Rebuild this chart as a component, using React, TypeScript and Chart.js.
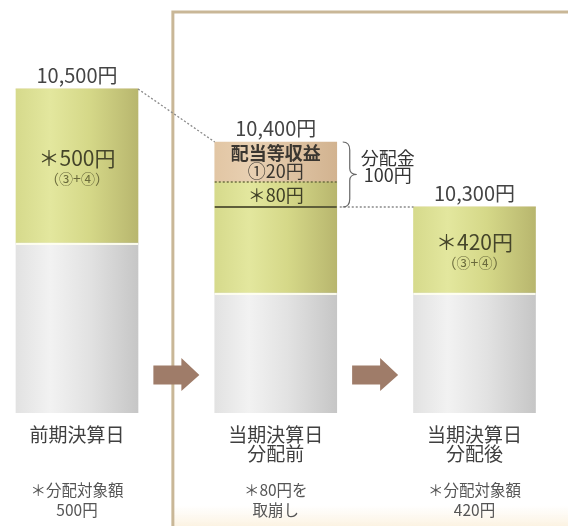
import { useEffect, useRef } from "react";
import { Chart, registerables } from "chart.js";

Chart.register(...registerables);

// ---- data (schematic segment heights in drawing units; the reference is not to scale) ----
const categories: string[][] = [["前期決算日"], ["当期決算日", "分配前"], ["当期決算日", "分配後"]];
const notes: string[][] = [["＊分配対象額", "500円"], ["＊80円を", "取崩し"], ["＊分配対象額", "420円"]];
const totalLabels: string[] = ["10,500円", "10,400円", "10,300円"];
const baseValues: number[] = [170, 120, 120];
const greenValues: number[] = [154, 86, 86];
const drawdownValues: number[] = [0, 25, 0]; // ＊80円 taken from distributable amount
const incomeValues: number[] = [0, 40, 0]; // ①20円 dividend income
const greenLabels: (string[] | null)[] = [["＊500円", "（③+④）"], null, ["＊420円", "（③+④）"]];
const incomeLabels: string[] = ["配当等収益", "①20円"];
const drawdownLabel = "＊80円";
const distributionLabels: string[] = ["分配金", "100円"];

const FONT = '"Noto Sans CJK JP", "Noto Sans", sans-serif';
const BAR_W = 122;

function hGrad(chart: any, idx: number, stops: [number, string][]) {
  const xs = chart.scales?.x;
  if (!xs) return stops[0][1];
  const cx = xs.getPixelForValue(idx);
  if (!isFinite(cx)) return stops[0][1];
  const g = chart.ctx.createLinearGradient(cx - BAR_W / 2, 0, cx + BAR_W / 2, 0);
  stops.forEach(([o, c]) => g.addColorStop(o, c));
  return g;
}

const greyStops: [number, string][] = [[0, "#e2e2e2"], [0.28, "#f2f2f2"], [0.6, "#e2e2e2"], [1, "#c6c6c6"]];
const greenStops: [number, string][] = [[0, "#d6da8c"], [0.28, "#e3e79e"], [0.6, "#d5d888"], [1, "#b8b66e"]];
const tanStops: [number, string][] = [[0, "#e2c6a4"], [0.3, "#e8d0b2"], [1, "#d2b390"]];

const overlay = {
  id: "overlay",
  beforeDatasetsDraw(chart: any) {
    const { ctx, scales } = chart;
    const xs = scales.x;
    const c0 = xs.getPixelForValue(0);
    const c1 = xs.getPixelForValue(1);
    const boxX = (c0 + c1) / 2 - 3.5;
    ctx.save();
    const cg = ctx.createLinearGradient(0, 505, 0, 526);
    cg.addColorStop(0, "rgba(253,246,232,0)");
    cg.addColorStop(1, "rgba(252,243,226,1)");
    ctx.fillStyle = cg;
    ctx.fillRect(boxX, 505, 600, 30);
    ctx.strokeStyle = "#c9b797";
    ctx.lineWidth = 3;
    ctx.strokeRect(boxX, 12, 600, 600);
    ctx.restore();
  },
  afterDatasetsDraw(chart: any) {
    const { ctx, scales } = chart;
    const xs = scales.x;
    const ys = scales.y;
    const cx = [0, 1, 2].map((i) => xs.getPixelForValue(i));
    const half = BAR_W / 2;
    const tops = baseValues.map((b, i) => ys.getPixelForValue(b + greenValues[i] + drawdownValues[i] + incomeValues[i]));
    const greenTop = baseValues.map((b, i) => ys.getPixelForValue(b + greenValues[i]));
    const baseTop = baseValues.map((b) => ys.getPixelForValue(b));
    ctx.save();
    ctx.textAlign = "center";
    ctx.textBaseline = "middle";

    // arrows
    ctx.fillStyle = "#9f7c69";
    for (let i = 0; i < 2; i++) {
      const mid = (cx[i] + cx[i + 1]) / 2;
      const x0 = mid - 23;
      const yc = 375;
      ctx.beginPath();
      ctx.moveTo(x0, yc - 9.5);
      ctx.lineTo(x0 + 28, yc - 9.5);
      ctx.lineTo(x0 + 28, yc - 17);
      ctx.lineTo(x0 + 46, yc);
      ctx.lineTo(x0 + 28, yc + 16);
      ctx.lineTo(x0 + 28, yc + 9.5);
      ctx.lineTo(x0, yc + 9.5);
      ctx.closePath();
      ctx.fill();
    }

    // connector from bar1 top to bar2 top
    ctx.strokeStyle = "#8a8a8a";
    ctx.lineWidth = 1.3;
    ctx.setLineDash([2, 2]);
    ctx.beginPath();
    ctx.moveTo(cx[0] + half, tops[0]);
    ctx.lineTo(cx[1] - half, tops[1]);
    ctx.stroke();
    // connector from bar2 green top to bar3 top
    ctx.beginPath();
    ctx.moveTo(cx[1] + half + 3, greenTop[1]);
    ctx.lineTo(cx[2] - half, tops[2]);
    ctx.stroke();

    // dotted line between income and drawdown in bar2
    const ddTop = ys.getPixelForValue(baseValues[1] + greenValues[1] + drawdownValues[1]);
    ctx.strokeStyle = "#6d6d42";
    ctx.lineWidth = 1.5;
    ctx.beginPath();
    ctx.moveTo(cx[1] - half, ddTop);
    ctx.lineTo(cx[1] + half, ddTop);
    ctx.stroke();
    ctx.setLineDash([]);
    ctx.strokeStyle = "#5e5e3a";
    ctx.lineWidth = 2;
    ctx.beginPath();
    ctx.moveTo(cx[1] - half, greenTop[1]);
    ctx.lineTo(cx[1] + half, greenTop[1]);
    ctx.stroke();

    // light separation line between grey and green
    ctx.strokeStyle = "rgba(255,255,240,0.9)";
    ctx.lineWidth = 2;
    for (let i = 0; i < 3; i++) {
      ctx.beginPath();
      ctx.moveTo(cx[i] - half, baseTop[i] + 1);
      ctx.lineTo(cx[i] + half, baseTop[i] + 1);
      ctx.stroke();
    }

    // bracket
    const bx = cx[1] + half + 6;
    const bTop = tops[1];
    const bBot = greenTop[1];
    const bMid = (bTop + bBot) / 2;
    ctx.strokeStyle = "#666";
    ctx.lineWidth = 1.2;
    ctx.beginPath();
    ctx.moveTo(bx, bTop);
    ctx.quadraticCurveTo(bx + 7, bTop, bx + 7, bTop + 8);
    ctx.lineTo(bx + 7, bMid - 6);
    ctx.quadraticCurveTo(bx + 7, bMid, bx + 14, bMid);
    ctx.quadraticCurveTo(bx + 7, bMid, bx + 7, bMid + 6);
    ctx.lineTo(bx + 7, bBot - 8);
    ctx.quadraticCurveTo(bx + 7, bBot, bx, bBot);
    ctx.stroke();

    ctx.fillStyle = "#333";
    ctx.font = `18px ${FONT}`;
    ctx.fillText(distributionLabels[0], bx + 45, bMid - 16);
    ctx.fillText(distributionLabels[1], bx + 45, bMid + 1);

    ctx.fillStyle = "#444";
    ctx.font = `20px ${FONT}`;
    for (let i = 0; i < 3; i++) {
      ctx.fillText(totalLabels[i], cx[i], tops[i] - 14);
    }

    for (let i = 0; i < 3; i++) {
      const lab = greenLabels[i];
      if (!lab) continue;
      const mid = (greenTop[i] + baseTop[i]) / 2;
      ctx.fillStyle = "#45452a";
      ctx.font = `21px ${FONT}`;
      ctx.fillText(lab[0], cx[i], mid - 8);
      ctx.fillStyle = "#6a6a3c";
      ctx.font = `14px ${FONT}`;
      ctx.fillText(lab[1], cx[i], mid + 13);
    }

    const incMid = (tops[1] + ddTop) / 2;
    ctx.fillStyle = "#3a3630";
    ctx.font = `bold 18px ${FONT}`;
    ctx.fillText(incomeLabels[0], cx[1], incMid - 9);
    ctx.font = `18px ${FONT}`;
    ctx.fillText(incomeLabels[1], cx[1], incMid + 9);
    ctx.fillStyle = "#3f3f26";
    ctx.fillText(drawdownLabel, cx[1], (ddTop + greenTop[1]) / 2 + 1);

    const bottom = ys.getPixelForValue(0);
    for (let i = 0; i < 3; i++) {
      ctx.fillStyle = "#404040";
      ctx.font = `19px ${FONT}`;
      categories[i].forEach((t, k) => ctx.fillText(t, cx[i], bottom + 22 + k * 19));
      ctx.fillStyle = "#555";
      ctx.font = `15.5px ${FONT}`;
      notes[i].forEach((t, k) => ctx.fillText(t, cx[i], bottom + 77 + k * 20));
    }
    ctx.restore();
  },
};

export default function App() {
  const ref = useRef<HTMLCanvasElement | null>(null);
  useEffect(() => {
    if (!ref.current) return;
    const pts = (arr: number[]) => arr.map((v, i) => ({ x: i, y: v }));
    const chart = new Chart(ref.current, {
      type: "bar",
      data: {
        datasets: [
          { label: "base", data: pts(baseValues), backgroundColor: (c: any) => hGrad(c.chart, c.dataIndex, greyStops) },
          { label: "distributable", data: pts(greenValues), backgroundColor: (c: any) => hGrad(c.chart, c.dataIndex, greenStops) },
          { label: "drawdown", data: pts(drawdownValues), backgroundColor: (c: any) => hGrad(c.chart, c.dataIndex, greenStops) },
          { label: "income", data: pts(incomeValues), backgroundColor: (c: any) => hGrad(c.chart, c.dataIndex, tanStops) },
        ] as any,
      },
      options: {
        animation: false,
        responsive: true,
        maintainAspectRatio: false,
        layout: { padding: { left: 0, right: 0, top: 0, bottom: 113 } },
        datasets: { bar: { barThickness: BAR_W, borderWidth: 0 } } as any,
        plugins: { legend: { display: false }, tooltip: { enabled: false } },
        scales: {
          x: { type: "linear", offset: false, stacked: true, display: false, min: -77 / 198.75, max: (568 - 77) / 198.75 },
          y: { stacked: true, display: false, min: 0, max: 413 },
        },
      },
      plugins: [overlay],
    });
    return () => chart.destroy();
  }, []);
  return (
    <div style={{ position: "fixed", left: 0, top: 0, width: 568, height: 526, background: "#fff" }}>
      <canvas ref={ref} />
    </div>
  );
}
